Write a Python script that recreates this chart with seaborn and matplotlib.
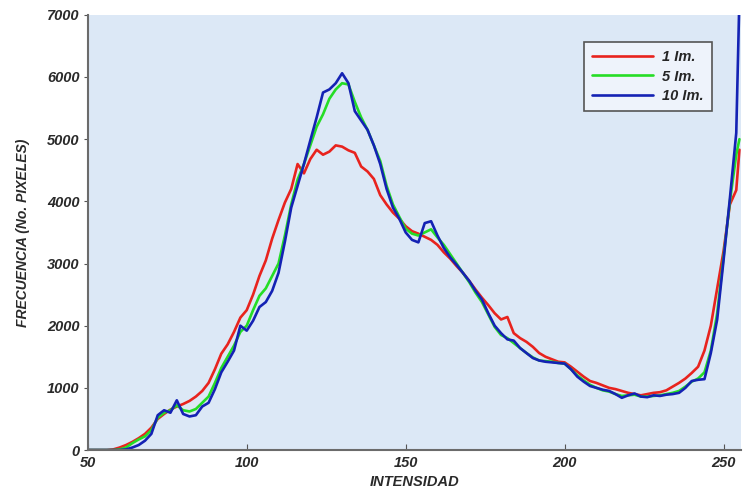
import numpy as np
import pandas as pd
import matplotlib
matplotlib.use("Agg")
import matplotlib.pyplot as plt
import seaborn as sns

intensity = list(range(50, 256, 2)) + [255]

im1 = [0, 0, 0, 0, 10, 40, 80, 130, 190, 260,
       360, 500, 580, 650, 700, 740, 790, 860, 950, 1080,
       1300, 1550, 1700, 1900, 2130, 2250, 2500, 2800, 3050, 3400,
       3700, 3980, 4200, 4600, 4450, 4680, 4830, 4750, 4800, 4900,
       4880, 4820, 4780, 4560, 4480, 4360, 4100, 3950, 3820, 3720,
       3600, 3520, 3480, 3430, 3380, 3300, 3180, 3080, 2960, 2850,
       2720, 2580, 2450, 2330, 2200, 2100, 2140, 1880, 1800, 1740,
       1660, 1560, 1500, 1460, 1420, 1410, 1340, 1260, 1180, 1110,
       1080, 1040, 1000, 980, 950, 920, 900, 880, 900, 920,
       930, 960, 1020, 1080, 1150, 1240, 1340, 1600, 2000, 2600,
       3200, 3950, 4180, 4830]

im5 = [0, 0, 0, 0, 0, 10, 40, 110, 170, 220,
       320, 520, 600, 640, 720, 640, 620, 660, 760, 860,
       1080, 1320, 1500, 1680, 1900, 2000, 2250, 2480, 2600, 2800,
       3000, 3450, 3950, 4350, 4600, 4900, 5200, 5400, 5650, 5800,
       5900, 5880, 5600, 5350, 5150, 4900, 4650, 4250, 3950, 3750,
       3560, 3480, 3450, 3500, 3550, 3420, 3300, 3150, 3000, 2850,
       2700, 2530, 2380, 2180, 1980, 1850, 1800, 1720, 1640, 1560,
       1490, 1440, 1430, 1420, 1400, 1390, 1300, 1200, 1120, 1050,
       1000, 960, 940, 900, 870, 880, 890, 860, 860, 870,
       880, 900, 920, 950, 1020, 1100, 1150, 1250, 1600, 2200,
       3100, 4000, 4750, 5000]

im10 = [0, 0, 0, 0, 0, 0, 10, 40, 80, 150,
        260, 560, 640, 600, 800, 580, 540, 560, 700, 760,
        980, 1250, 1420, 1600, 2000, 1920, 2080, 2300, 2380, 2560,
        2850, 3350, 3900, 4250, 4600, 4980, 5350, 5750, 5800, 5900,
        6060, 5900, 5450, 5300, 5150, 4900, 4600, 4200, 3900, 3720,
        3500, 3380, 3340, 3650, 3680, 3450, 3250, 3100, 2980, 2850,
        2720, 2560, 2420, 2200, 2000, 1880, 1780, 1760, 1640, 1560,
        1480, 1440, 1420, 1410, 1400, 1390, 1300, 1180, 1100, 1030,
        1000, 970, 950, 900, 840, 880, 910, 860, 850, 880,
        870, 890, 900, 920, 1000, 1110, 1130, 1140, 1560, 2100,
        3050, 4050, 5100, 7300]

series_names = ["1 Im.", "5 Im.", "10 Im."]
colors = ["#e8231e", "#25dd25", "#1422b4"]

df = pd.concat([
    pd.DataFrame({"INTENSIDAD": intensity, "FRECUENCIA": vals, "serie": name})
    for name, vals in zip(series_names, [im1, im5, im10])
], ignore_index=True)

sns.set_style("ticks")
plt.rcParams["font.family"] = ["Liberation Sans", "DejaVu Sans"]

fig = plt.figure(figsize=(7.44, 4.94), dpi=100)
ax = fig.add_axes([0.118, 0.089, 0.878, 0.881])
ax.set_facecolor("#dce8f6")

sns.lineplot(data=df, x="INTENSIDAD", y="FRECUENCIA", hue="serie",
             hue_order=series_names, palette=colors, linewidth=1.9,
             sort=False, estimator=None, ax=ax)

ax.set_xlim(50, 255.5)
ax.set_ylim(0, 7000)
ax.set_xticks([50, 100, 150, 200, 250])
ax.set_yticks(range(0, 7001, 1000))

for s in ["top", "right"]:
    ax.spines[s].set_visible(False)
for s in ["left", "bottom"]:
    ax.spines[s].set_color("#6b6b6b")
    ax.spines[s].set_linewidth(1.5)

ax.tick_params(axis="x", direction="in", length=4, color="#555555", pad=4)
ax.tick_params(axis="y", direction="out", length=3, color="#555555", pad=3)
for lab in ax.get_xticklabels() + ax.get_yticklabels():
    lab.set_fontweight("bold")
    lab.set_fontstyle("italic")
    lab.set_fontsize(10.5)
    lab.set_color("#2a2a2a")

ax.set_xlabel("INTENSIDAD", fontsize=10.5, fontweight="bold", fontstyle="italic",
              color="#2a2a2a", labelpad=4)
ax.set_ylabel("FRECUENCIA (No. PIXELES)", fontsize=10, fontweight="bold",
              fontstyle="italic", color="#2a2a2a", labelpad=12)

leg = ax.legend(loc="upper right", bbox_to_anchor=(0.966, 0.955), frameon=True,
                fancybox=False, handlelength=4.2, handletextpad=0.6,
                borderpad=0.55, labelspacing=0.4,
                prop={"weight": "bold", "style": "italic", "size": 10.5})
leg.get_frame().set_edgecolor("#555555")
leg.get_frame().set_linewidth(1.2)
leg.get_frame().set_facecolor("#eef3fb")
leg.get_frame().set_alpha(1)
for line in leg.get_lines():
    line.set_linewidth(1.9)

fig.savefig("out.png", dpi=100, facecolor="white")
